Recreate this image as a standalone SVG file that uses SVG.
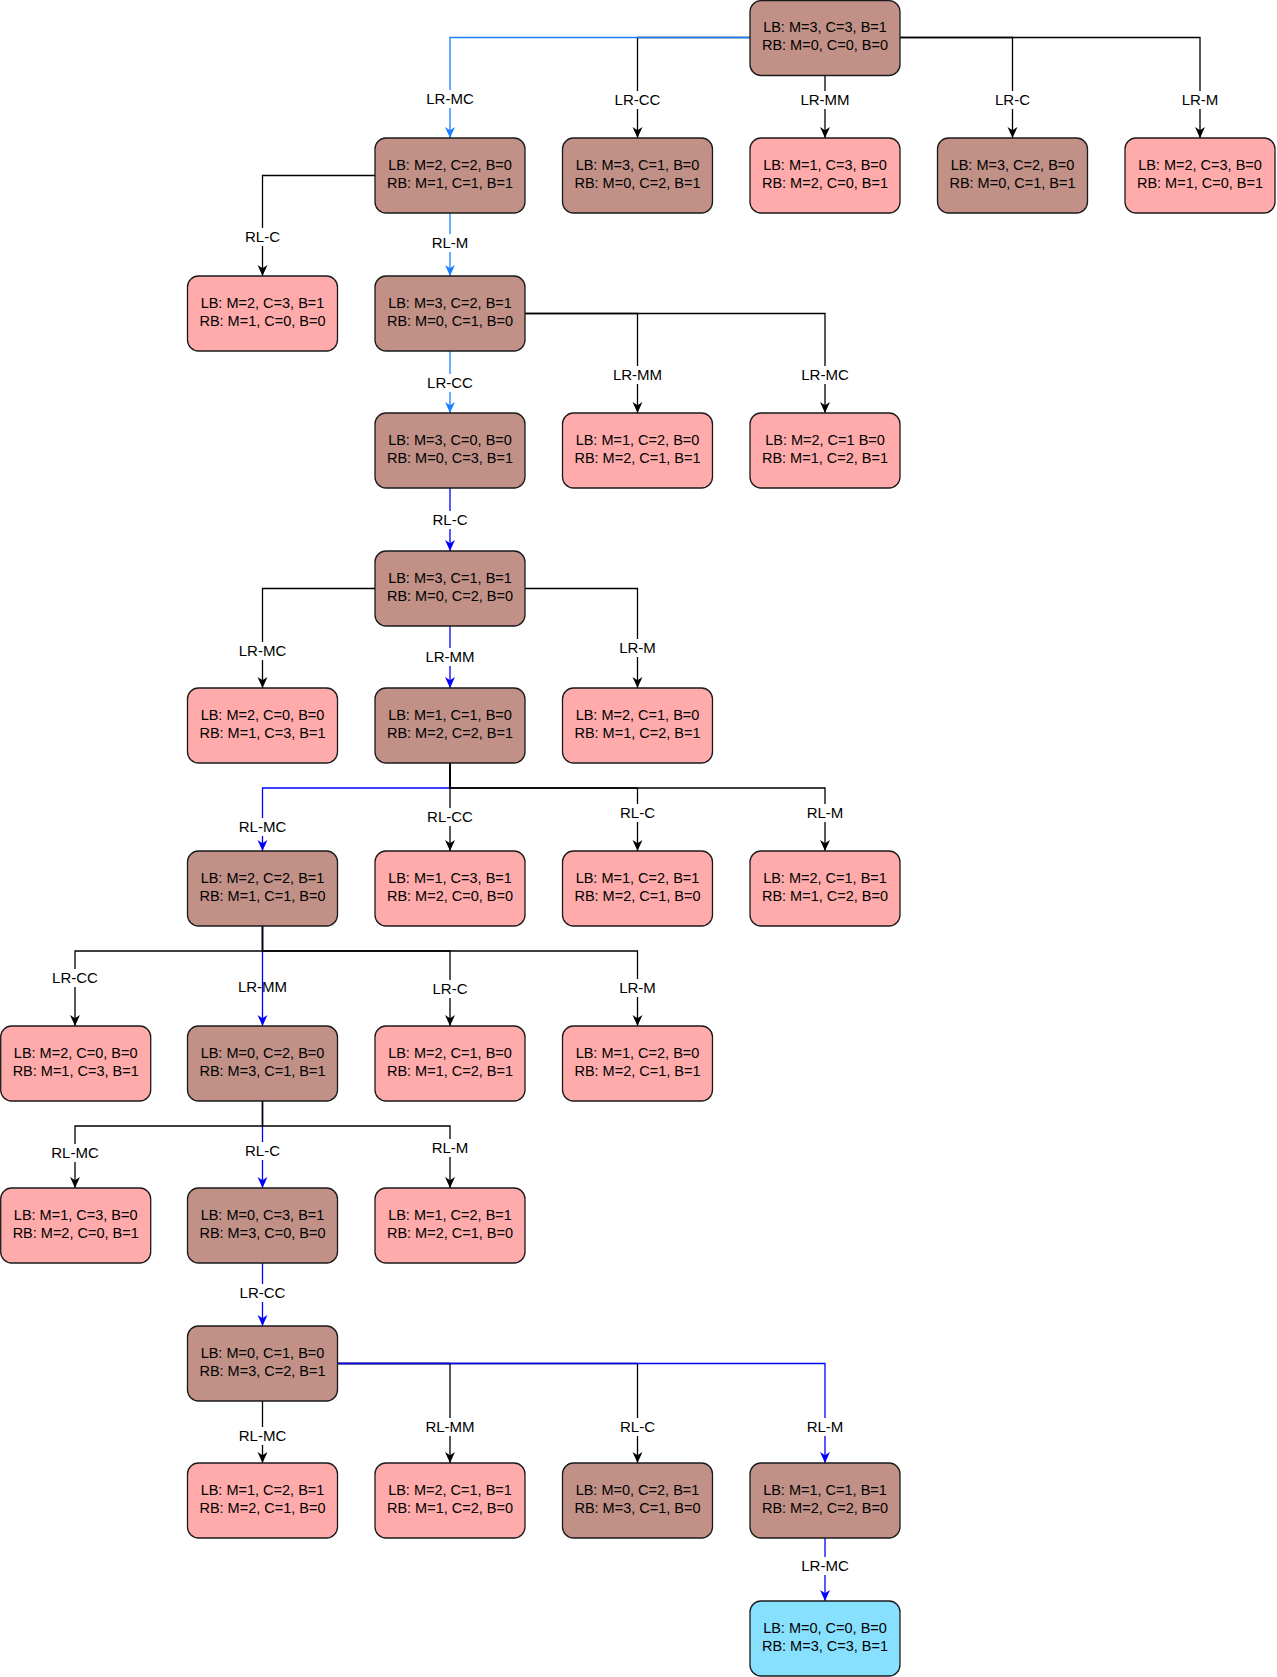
<svg xmlns="http://www.w3.org/2000/svg" width="1277" height="1677" viewBox="0 0 1277 1677">
<style>
  .n rect { stroke:#1a1a1a; stroke-width:1.3; }
  .b rect { fill:#C19187; }
  .p rect { fill:#FFABAB; }
  .g rect { fill:#88E0FF; }
  text { font-family:"Liberation Sans", Arial, sans-serif; font-size:14.5px; text-anchor:middle; fill:#000; }
  #edges text { font-size:15px; }
  .e { fill:none; stroke:#000; stroke-width:1.3; }
  .lb { stroke:#1A80FF; }
  .bl { stroke:#0000FF; }
  .bg { fill:#fff; }
</style>
<defs>
  <marker id="ak" viewBox="0 0 10 10" refX="10" refY="5" markerWidth="11" markerHeight="11" markerUnits="userSpaceOnUse" orient="auto"><path d="M0,0.5 L10,5 L0,9.5 L3,5 Z" fill="#000"/></marker>
  <marker id="al" viewBox="0 0 10 10" refX="10" refY="5" markerWidth="11" markerHeight="11" markerUnits="userSpaceOnUse" orient="auto"><path d="M0,0.5 L10,5 L0,9.5 L3,5 Z" fill="#1A80FF"/></marker>
  <marker id="ab" viewBox="0 0 10 10" refX="10" refY="5" markerWidth="11" markerHeight="11" markerUnits="userSpaceOnUse" orient="auto"><path d="M0,0.5 L10,5 L0,9.5 L3,5 Z" fill="#0000FF"/></marker>
</defs>

<g id="edges">
  <!-- root -->
  <path class="e" d="M750,37.5 H637.5 V138" marker-end="url(#ak)"/>
  <path class="e" d="M825,75.5 V138" marker-end="url(#ak)"/>
  <path class="e" d="M900,37.5 H1012.5 V138" marker-end="url(#ak)"/>
  <path class="e" d="M900,37.5 H1200 V138" marker-end="url(#ak)"/>
  <path class="e lb" d="M750,37.5 H450 V138" marker-end="url(#al)"/>
  <rect class="bg" x="425" y="90" width="50" height="18"/><text x="450" y="104">LR-MC</text>
  <rect class="bg" x="613" y="91" width="49" height="18"/><text x="637.5" y="105">LR-CC</text>
  <rect class="bg" x="800" y="91" width="50" height="18"/><text x="825" y="105">LR-MM</text>
  <rect class="bg" x="993" y="91" width="39" height="18"/><text x="1012.5" y="105">LR-C</text>
  <rect class="bg" x="1180" y="91" width="40" height="18"/><text x="1200" y="105">LR-M</text>

  <!-- row1 -->
  <path class="e" d="M375,175.5 H262.5 V276" marker-end="url(#ak)"/>
  <path class="e lb" d="M450,213 V276" marker-end="url(#al)"/>
  <rect class="bg" x="243" y="228" width="39" height="18"/><text x="262.5" y="242">RL-C</text>
  <rect class="bg" x="430" y="234" width="40" height="18"/><text x="450" y="248">RL-M</text>

  <!-- row2 -->
  <path class="e lb" d="M450,351 V413" marker-end="url(#al)"/>
  <path class="e" d="M525,313.5 H637.5 V413" marker-end="url(#ak)"/>
  <path class="e" d="M525,313.5 H825 V413" marker-end="url(#ak)"/>
  <rect class="bg" x="426" y="374" width="49" height="18"/><text x="450" y="388">LR-CC</text>
  <rect class="bg" x="612" y="366" width="51" height="18"/><text x="637.5" y="380">LR-MM</text>
  <rect class="bg" x="800" y="366" width="50" height="18"/><text x="825" y="380">LR-MC</text>

  <!-- row3 -->
  <path class="e bl" d="M450,488 V551" marker-end="url(#ab)"/>
  <rect class="bg" x="430" y="511" width="40" height="18"/><text x="450" y="525">RL-C</text>

  <!-- row4 -->
  <path class="e" d="M375,588.5 H262.5 V688" marker-end="url(#ak)"/>
  <path class="e bl" d="M450,626 V688" marker-end="url(#ab)"/>
  <path class="e" d="M525,588.5 H637.5 V688" marker-end="url(#ak)"/>
  <rect class="bg" x="237" y="642" width="51" height="18"/><text x="262.5" y="656">LR-MC</text>
  <rect class="bg" x="425" y="648" width="50" height="18"/><text x="450" y="662">LR-MM</text>
  <rect class="bg" x="617" y="639" width="41" height="18"/><text x="637.5" y="653">LR-M</text>

  <!-- row5 -->
  <path class="e bl" d="M450,763 V788 H262.5 V851" marker-end="url(#ab)"/>
  <path class="e" d="M450,763 V851" marker-end="url(#ak)"/>
  <path class="e" d="M450,763 V788 H637.5 V851" marker-end="url(#ak)"/>
  <path class="e" d="M450,763 V788 H825 V851" marker-end="url(#ak)"/>
  <rect class="bg" x="237" y="818" width="51" height="18"/><text x="262.5" y="832">RL-MC</text>
  <rect class="bg" x="425" y="808" width="50" height="18"/><text x="450" y="822">RL-CC</text>
  <rect class="bg" x="618" y="804" width="39" height="18"/><text x="637.5" y="818">RL-C</text>
  <rect class="bg" x="805" y="804" width="40" height="18"/><text x="825" y="818">RL-M</text>

  <!-- row6 -->
  <rect class="bg" x="237" y="978" width="51" height="18"/><text x="262.5" y="992">LR-MM</text>
  <path class="e bl" d="M262.5,926 V1026" marker-end="url(#ab)"/>
  <path class="e" d="M262.5,926 V951 H75 V1026" marker-end="url(#ak)"/>
  <path class="e" d="M262.5,926 V951 H450 V1026" marker-end="url(#ak)"/>
  <path class="e" d="M262.5,926 V951 H637.5 V1026" marker-end="url(#ak)"/>
  <rect class="bg" x="50" y="969" width="50" height="18"/><text x="75" y="983">LR-CC</text>
  <rect class="bg" x="430" y="980" width="40" height="18"/><text x="450" y="994">LR-C</text>
  <rect class="bg" x="617" y="979" width="41" height="18"/><text x="637.5" y="993">LR-M</text>

  <!-- row7 -->
  <path class="e bl" d="M262.5,1101 V1188" marker-end="url(#ab)"/>
  <path class="e" d="M262.5,1101 V1126 H75 V1188" marker-end="url(#ak)"/>
  <path class="e" d="M262.5,1101 V1126 H450 V1188" marker-end="url(#ak)"/>
  <rect class="bg" x="50" y="1144" width="50" height="18"/><text x="75" y="1158">RL-MC</text>
  <rect class="bg" x="243" y="1142" width="39" height="18"/><text x="262.5" y="1156">RL-C</text>
  <rect class="bg" x="430" y="1139" width="40" height="18"/><text x="450" y="1153">RL-M</text>

  <!-- row8 -->
  <path class="e bl" d="M262.5,1263 V1326" marker-end="url(#ab)"/>
  <rect class="bg" x="238" y="1284" width="49" height="18"/><text x="262.5" y="1298">LR-CC</text>

  <!-- row9 -->
  <path class="e" d="M262.5,1401 V1463" marker-end="url(#ak)"/>
  <path class="e" d="M337.5,1363.5 H450 V1463" marker-end="url(#ak)"/>
  <path class="e" d="M337.5,1363.5 H637.5 V1463" marker-end="url(#ak)"/>
  <path class="e bl" d="M337.5,1363.5 H825 V1463" marker-end="url(#ab)"/>
  <rect class="bg" x="237" y="1427" width="51" height="18"/><text x="262.5" y="1441">RL-MC</text>
  <rect class="bg" x="425" y="1418" width="50" height="18"/><text x="450" y="1432">RL-MM</text>
  <rect class="bg" x="618" y="1418" width="39" height="18"/><text x="637.5" y="1432">RL-C</text>
  <rect class="bg" x="805" y="1418" width="40" height="18"/><text x="825" y="1432">RL-M</text>

  <!-- row10 -->
  <path class="e bl" d="M825,1538 V1601" marker-end="url(#ab)"/>
  <rect class="bg" x="800" y="1557" width="50" height="18"/><text x="825" y="1571">LR-MC</text>
</g>

<g id="n0" class="n b"><rect x="750" y="0.7" width="150" height="74.8" rx="11"/><text x="825" y="31.5">LB: M=3, C=3, B=1</text><text x="825" y="50">RB: M=0, C=0, B=0</text></g>

<g id="n1a" class="n b"><rect x="375" y="138" width="150" height="75" rx="11"/><text x="450" y="169.5">LB: M=2, C=2, B=0</text><text x="450" y="188">RB: M=1, C=1, B=1</text></g>
<g id="n1b" class="n b"><rect x="562.5" y="138" width="150" height="75" rx="11"/><text x="637.5" y="169.5">LB: M=3, C=1, B=0</text><text x="637.5" y="188">RB: M=0, C=2, B=1</text></g>
<g id="n1c" class="n p"><rect x="750" y="138" width="150" height="75" rx="11"/><text x="825" y="169.5">LB: M=1, C=3, B=0</text><text x="825" y="188">RB: M=2, C=0, B=1</text></g>
<g id="n1d" class="n b"><rect x="937.5" y="138" width="150" height="75" rx="11"/><text x="1012.5" y="169.5">LB: M=3, C=2, B=0</text><text x="1012.5" y="188">RB: M=0, C=1, B=1</text></g>
<g id="n1e" class="n p"><rect x="1125" y="138" width="150" height="75" rx="11"/><text x="1200" y="169.5">LB: M=2, C=3, B=0</text><text x="1200" y="188">RB: M=1, C=0, B=1</text></g>

<g id="n2a" class="n p"><rect x="187.5" y="276" width="150" height="75" rx="11"/><text x="262.5" y="307.5">LB: M=2, C=3, B=1</text><text x="262.5" y="326">RB: M=1, C=0, B=0</text></g>
<g id="n2b" class="n b"><rect x="375" y="276" width="150" height="75" rx="11"/><text x="450" y="307.5">LB: M=3, C=2, B=1</text><text x="450" y="326">RB: M=0, C=1, B=0</text></g>

<g id="n3a" class="n b"><rect x="375" y="413" width="150" height="75" rx="11"/><text x="450" y="444.5">LB: M=3, C=0, B=0</text><text x="450" y="463">RB: M=0, C=3, B=1</text></g>
<g id="n3b" class="n p"><rect x="562.5" y="413" width="150" height="75" rx="11"/><text x="637.5" y="444.5">LB: M=1, C=2, B=0</text><text x="637.5" y="463">RB: M=2, C=1, B=1</text></g>
<g id="n3c" class="n p"><rect x="750" y="413" width="150" height="75" rx="11"/><text x="825" y="444.5">LB: M=2, C=1 B=0</text><text x="825" y="463">RB: M=1, C=2, B=1</text></g>

<g id="n4" class="n b"><rect x="375" y="551" width="150" height="75" rx="11"/><text x="450" y="582.5">LB: M=3, C=1, B=1</text><text x="450" y="601">RB: M=0, C=2, B=0</text></g>

<g id="n5a" class="n p"><rect x="187.5" y="688" width="150" height="75" rx="11"/><text x="262.5" y="719.5">LB: M=2, C=0, B=0</text><text x="262.5" y="738">RB: M=1, C=3, B=1</text></g>
<g id="n5b" class="n b"><rect x="375" y="688" width="150" height="75" rx="11"/><text x="450" y="719.5">LB: M=1, C=1, B=0</text><text x="450" y="738">RB: M=2, C=2, B=1</text></g>
<g id="n5c" class="n p"><rect x="562.5" y="688" width="150" height="75" rx="11"/><text x="637.5" y="719.5">LB: M=2, C=1, B=0</text><text x="637.5" y="738">RB: M=1, C=2, B=1</text></g>

<g id="n6a" class="n b"><rect x="187.5" y="851" width="150" height="75" rx="11"/><text x="262.5" y="882.5">LB: M=2, C=2, B=1</text><text x="262.5" y="901">RB: M=1, C=1, B=0</text></g>
<g id="n6b" class="n p"><rect x="375" y="851" width="150" height="75" rx="11"/><text x="450" y="882.5">LB: M=1, C=3, B=1</text><text x="450" y="901">RB: M=2, C=0, B=0</text></g>
<g id="n6c" class="n p"><rect x="562.5" y="851" width="150" height="75" rx="11"/><text x="637.5" y="882.5">LB: M=1, C=2, B=1</text><text x="637.5" y="901">RB: M=2, C=1, B=0</text></g>
<g id="n6d" class="n p"><rect x="750" y="851" width="150" height="75" rx="11"/><text x="825" y="882.5">LB: M=2, C=1, B=1</text><text x="825" y="901">RB: M=1, C=2, B=0</text></g>

<g id="n7a" class="n p"><rect x="0.7" y="1026" width="150" height="75" rx="11"/><text x="75.7" y="1057.5">LB: M=2, C=0, B=0</text><text x="75.7" y="1076">RB: M=1, C=3, B=1</text></g>
<g id="n7b" class="n b"><rect x="187.5" y="1026" width="150" height="75" rx="11"/><text x="262.5" y="1057.5">LB: M=0, C=2, B=0</text><text x="262.5" y="1076">RB: M=3, C=1, B=1</text></g>
<g id="n7c" class="n p"><rect x="375" y="1026" width="150" height="75" rx="11"/><text x="450" y="1057.5">LB: M=2, C=1, B=0</text><text x="450" y="1076">RB: M=1, C=2, B=1</text></g>
<g id="n7d" class="n p"><rect x="562.5" y="1026" width="150" height="75" rx="11"/><text x="637.5" y="1057.5">LB: M=1, C=2, B=0</text><text x="637.5" y="1076">RB: M=2, C=1, B=1</text></g>

<g id="n8a" class="n p"><rect x="0.7" y="1188" width="150" height="75" rx="11"/><text x="75.7" y="1219.5">LB: M=1, C=3, B=0</text><text x="75.7" y="1238">RB: M=2, C=0, B=1</text></g>
<g id="n8b" class="n b"><rect x="187.5" y="1188" width="150" height="75" rx="11"/><text x="262.5" y="1219.5">LB: M=0, C=3, B=1</text><text x="262.5" y="1238">RB: M=3, C=0, B=0</text></g>
<g id="n8c" class="n p"><rect x="375" y="1188" width="150" height="75" rx="11"/><text x="450" y="1219.5">LB: M=1, C=2, B=1</text><text x="450" y="1238">RB: M=2, C=1, B=0</text></g>

<g id="n9" class="n b"><rect x="187.5" y="1326" width="150" height="75" rx="11"/><text x="262.5" y="1357.5">LB: M=0, C=1, B=0</text><text x="262.5" y="1376">RB: M=3, C=2, B=1</text></g>

<g id="n10a" class="n p"><rect x="187.5" y="1463" width="150" height="75" rx="11"/><text x="262.5" y="1494.5">LB: M=1, C=2, B=1</text><text x="262.5" y="1513">RB: M=2, C=1, B=0</text></g>
<g id="n10b" class="n p"><rect x="375" y="1463" width="150" height="75" rx="11"/><text x="450" y="1494.5">LB: M=2, C=1, B=1</text><text x="450" y="1513">RB: M=1, C=2, B=0</text></g>
<g id="n10c" class="n b"><rect x="562.5" y="1463" width="150" height="75" rx="11"/><text x="637.5" y="1494.5">LB: M=0, C=2, B=1</text><text x="637.5" y="1513">RB: M=3, C=1, B=0</text></g>
<g id="n10d" class="n b"><rect x="750" y="1463" width="150" height="75" rx="11"/><text x="825" y="1494.5">LB: M=1, C=1, B=1</text><text x="825" y="1513">RB: M=2, C=2, B=0</text></g>

<g id="n11" class="n g"><rect x="750" y="1601" width="150" height="75" rx="11"/><text x="825" y="1632.5">LB: M=0, C=0, B=0</text><text x="825" y="1651">RB: M=3, C=3, B=1</text></g>
</svg>
